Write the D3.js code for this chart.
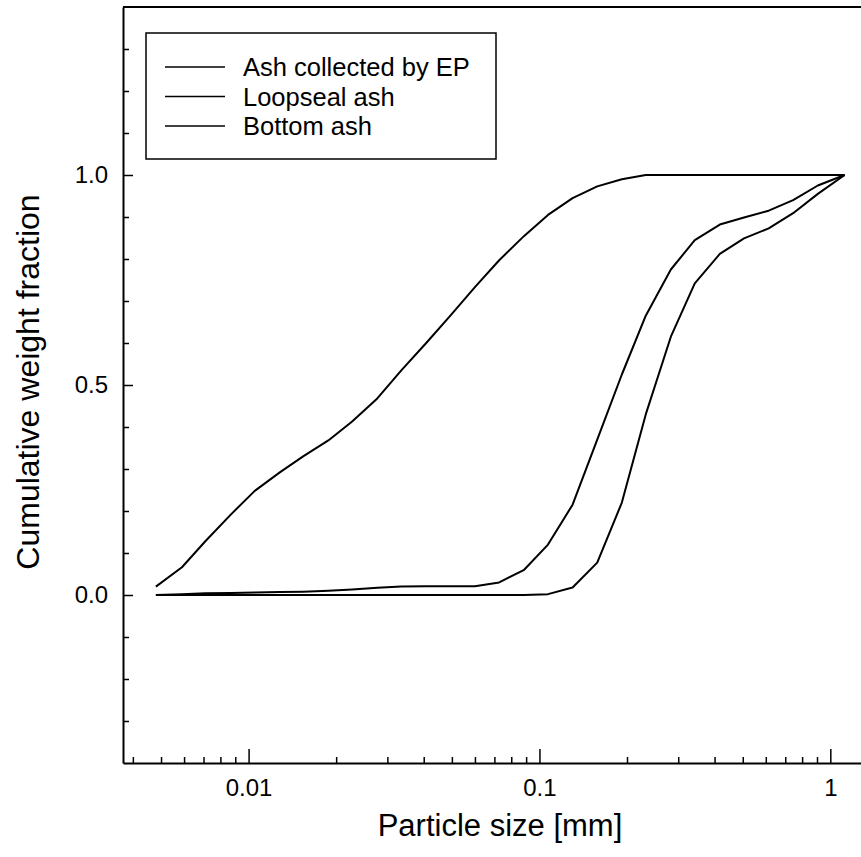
<!DOCTYPE html>
<html>
<head>
<meta charset="utf-8">
<script src="https://cdn.jsdelivr.net/npm/d3@7"></script>
<style>
  body { margin: 0; background: #fff; }
  svg { display: block; font-family: "Liberation Sans", Arial, sans-serif; }
  .line { fill: none; stroke: #000; stroke-width: 2px; stroke-linejoin: round; }
  .axis path, .axis line { stroke: #000; }
  .axis text { font-size: 24px; fill: #000; font-family: "Liberation Sans", Arial, sans-serif; }
</style>
</head>
<body>
<svg width="861" height="857"></svg>
<script>
// particle size classes [mm]
let sizes = [0.0048, 0.0059, 0.0071, 0.0087, 0.0105, 0.0128, 0.0154, 0.0188, 0.0227, 0.0277,
             0.0335, 0.0408, 0.0494, 0.0600, 0.0727, 0.0886, 0.107, 0.130, 0.158, 0.192,
             0.232, 0.283, 0.342, 0.417, 0.505, 0.614, 0.745, 0.906, 1.12];

// cumulative weight fraction
let epAsh = [0.020, 0.066, 0.128, 0.192, 0.248, 0.292, 0.330, 0.368, 0.413, 0.468,
             0.535, 0.600, 0.665, 0.733, 0.797, 0.855, 0.905, 0.945, 0.973, 0.990,
             1.0, 1.0, 1.0, 1.0, 1.0, 1.0, 1.0, 1.0, 1.0];
let loopsealAsh = [0.000, 0.002, 0.004, 0.005, 0.006, 0.007, 0.008, 0.010, 0.013, 0.017,
                   0.020, 0.021, 0.021, 0.021, 0.030, 0.060, 0.120, 0.215, 0.370, 0.525,
                   0.665, 0.775, 0.845, 0.882, 0.899, 0.915, 0.940, 0.975, 1.0];
let bottomAsh = [0, 0, 0, 0, 0, 0, 0, 0, 0, 0,
                 0, 0, 0, 0, 0, 0, 0.002, 0.018, 0.077, 0.220,
                 0.430, 0.615, 0.742, 0.812, 0.849, 0.873, 0.909, 0.955, 1.0];

let seriesNames = ["Ash collected by EP", "Loopseal ash", "Bottom ash"];
let seriesValues = [epAsh, loopsealAsh, bottomAsh];

let xMajor = [0.01, 0.1, 1];
let xMinor = [0.004, 0.005, 0.006, 0.007, 0.008, 0.009,
              0.02, 0.03, 0.04, 0.05, 0.06, 0.07, 0.08, 0.09,
              0.2, 0.3, 0.4, 0.5, 0.6, 0.7, 0.8, 0.9];
let yMajor = [0, 0.5, 1.0];
let yMinor = [-0.3, -0.2, -0.1, 0.1, 0.2, 0.3, 0.4, 0.6, 0.7, 0.8, 0.9, 1.1, 1.2, 1.3];

let svg = d3.select("svg"),
    margin = { top: 7, right: 0, bottom: 94, left: 123 },
    width = +svg.attr("width") - margin.left - margin.right,
    height = +svg.attr("height") - margin.top - margin.bottom,
    g = svg.append("g").attr("transform", `translate(${margin.left},${margin.top})`);

let x = d3.scaleLog()
    .domain([0.0037, 1.275])
    .range([0, width]);
let y = d3.scaleLinear()
    .domain([-0.4, 1.4])
    .range([height, 0]);

// minor ticks
g.append("g")
    .attr("class", "axis")
    .attr("transform", `translate(0,${height})`)
    .call(d3.axisBottom(x).tickValues(xMinor).tickSize(-6).tickSizeOuter(0).tickFormat(""))
    .call(s => s.select(".domain").remove())
    .selectAll("line").attr("stroke-width", 1.5);

g.append("g")
    .attr("class", "axis")
    .call(d3.axisLeft(y).tickValues(yMinor).tickSize(-6).tickSizeOuter(0).tickFormat(""))
    .call(s => s.select(".domain").remove())
    .selectAll("line").attr("stroke-width", 1.5);

// major ticks + labels
let xAxis = g.append("g")
    .attr("class", "axis")
    .attr("transform", `translate(0,${height})`)
    .call(d3.axisBottom(x).tickValues(xMajor).tickSize(-14).tickSizeOuter(0)
        .tickPadding(16).tickFormat(d3.format("~g")));
xAxis.selectAll("line").attr("stroke-width", 1.5);
xAxis.select(".domain").attr("stroke-width", 2);

let yAxis = g.append("g")
    .attr("class", "axis")
    .call(d3.axisLeft(y).tickValues(yMajor).tickSize(-10).tickSizeOuter(0)
        .tickPadding(15).tickFormat(d3.format(".1f")));
yAxis.selectAll("line").attr("stroke-width", 1.5);
yAxis.select(".domain").attr("stroke-width", 2);

// top frame line
g.append("line")
    .attr("x1", 0).attr("x2", width)
    .attr("y1", 0).attr("y2", 0)
    .attr("stroke", "#000")
    .attr("stroke-width", 2);

// curves
let line = d3.line()
    .x(d => x(d[0]))
    .y(d => y(d[1]));

seriesValues.forEach(vals => {
    g.append("path")
        .datum(sizes.map((s, i) => [s, vals[i]]))
        .attr("class", "line")
        .attr("d", line);
});

// legend
let legend = svg.append("g").attr("transform", "translate(146,33)");
legend.append("rect")
    .attr("width", 350)
    .attr("height", 126)
    .attr("fill", "#fff")
    .attr("stroke", "#000")
    .attr("stroke-width", 1.5);

seriesNames.forEach((name, i) => {
    let row = legend.append("g").attr("transform", `translate(0,${34 + i * 29.5})`);
    row.append("line")
        .attr("x1", 19).attr("x2", 79)
        .attr("stroke", "#000")
        .attr("stroke-width", 1.5);
    row.append("text")
        .attr("x", 97)
        .attr("y", 9)
        .attr("font-size", 25.5)
        .text(name);
});

// axis titles
svg.append("text")
    .attr("x", 500)
    .attr("y", 836)
    .attr("text-anchor", "middle")
    .attr("font-size", 31)
    .text("Particle size [mm]");

svg.append("text")
    .attr("transform", "translate(39,382) rotate(-90)")
    .attr("text-anchor", "middle")
    .attr("font-size", 32)
    .text("Cumulative weight fraction");
</script>
</body>
</html>
